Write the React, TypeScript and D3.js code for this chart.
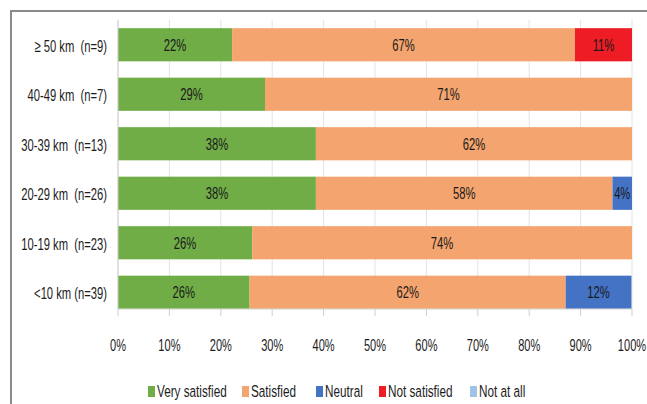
import React from "react";
import * as d3 from "d3";

const categories = ["≥ 50 km  (n=9)", "40-49 km  (n=7)", "30-39 km  (n=13)", "20-29 km  (n=26)", "10-19 km  (n=23)", "<10 km (n=39)"];
const seriesNames = ["Very satisfied", "Satisfied", "Neutral", "Not satisfied", "Not at all"];
const seriesColors = ["#70AD47", "#F4A46E", "#4472C4", "#EE1C25", "#9DC3E6"];
const verySatisfied = [22.2, 28.6, 38.5, 38.5, 26.1, 25.6];
const satisfied = [66.7, 71.4, 61.5, 57.7, 73.9, 61.5];
const neutral = [0, 0, 0, 3.8, 0, 12.8];
const notSatisfied = [11.1, 0, 0, 0, 0, 0];
const notAtAll = [0, 0, 0, 0, 0, 0];
const labelVerySatisfied = ["22%", "29%", "38%", "38%", "26%", "26%"];
const labelSatisfied = ["67%", "71%", "62%", "58%", "74%", "62%"];
const labelNeutral = ["", "", "", "4%", "", "12%"];
const labelNotSatisfied = ["11%", "", "", "", "", ""];
const labelNotAtAll = ["", "", "", "", "", ""];
const xTicks = [0, 10, 20, 30, 40, 50, 60, 70, 80, 90, 100];

const FONT = "'Liberation Sans', Arial, sans-serif";

function T({ x, y, anchor = "start", size = 17, sx = 0.69, fill = "#1c1c1c", children }: any) {
  return (
    <text transform={`translate(${x},${y}) scale(${sx},1)`} dy="0.35em" textAnchor={anchor}
      fontFamily={FONT} fontSize={size} fill={fill} style={{ whiteSpace: "pre" }}>{children}</text>
  );
}

export default function App() {
  const W = 647, H = 404;
  const x = d3.scaleLinear().domain([0, 100]).range([118, 632]);
  const y = d3.scaleBand().domain(categories).range([20, 317]).paddingInner(0.33).paddingOuter(0.165);
  const series = [verySatisfied, satisfied, neutral, notSatisfied, notAtAll];
  const labels = [labelVerySatisfied, labelSatisfied, labelNeutral, labelNotSatisfied, labelNotAtAll];
  const axisY = 309;
  const legendX = [148, 242, 316, 379, 470];

  const segs: any[] = [];
  categories.forEach((c, i) => {
    let acc = 0;
    series.forEach((s, k) => {
      const v = s[i];
      if (v > 0) {
        segs.push({ c, k, x0: acc, x1: acc + v, label: labels[k][i] });
      }
      acc += v;
    });
  });

  return (
    <svg width={W} height={H} style={{ position: "absolute", left: 0, top: 0, background: "#fff" }}>
      <rect x={0} y={0} width={W} height={H} fill="#fff" />
      <path d={`M11,${H} L11,11 L${W},11`} fill="none" stroke="#8a8a8a" strokeWidth={2} />
      {xTicks.map(t => (
        <line key={"g" + t} x1={x(t)} x2={x(t)} y1={20} y2={axisY} stroke="#e3e3e3" strokeWidth={1} />
      ))}
      {segs.map((s, j) => (
        <g key={j}>
          <rect x={x(s.x0)} y={y(s.c)} width={x(s.x1) - x(s.x0)} height={y.bandwidth()} fill={seriesColors[s.k]} />
          {s.label && (
            <T x={(x(s.x0) + x(s.x1)) / 2} y={y(s.c)! + y.bandwidth() / 2} anchor="middle" sx={0.66} fill="#1a1a1a">{s.label}</T>
          )}
        </g>
      ))}
      <line x1={118} x2={118} y1={20} y2={axisY} stroke="#cfcfcf" />
      <line x1={118} x2={632} y1={axisY} y2={axisY} stroke="#cfcfcf" />
      {xTicks.map(t => (
        <g key={"t" + t}>
          <line x1={x(t)} x2={x(t)} y1={axisY} y2={axisY + 7} stroke="#cfcfcf" />
          <T x={x(t)} y={345} anchor="middle" sx={0.65}>{t}%</T>
        </g>
      ))}
      {categories.map(c => (
        <T key={c} x={107} y={y(c)! + y.bandwidth() / 2 + 1} anchor="end" sx={0.66}>{c}</T>
      ))}
      {seriesNames.map((n, k) => (
        <g key={n}>
          <rect x={legendX[k]} y={386} width={7} height={11} fill={seriesColors[k]} />
          <T x={legendX[k] + 9} y={391}>{n}</T>
        </g>
      ))}
    </svg>
  );
}
